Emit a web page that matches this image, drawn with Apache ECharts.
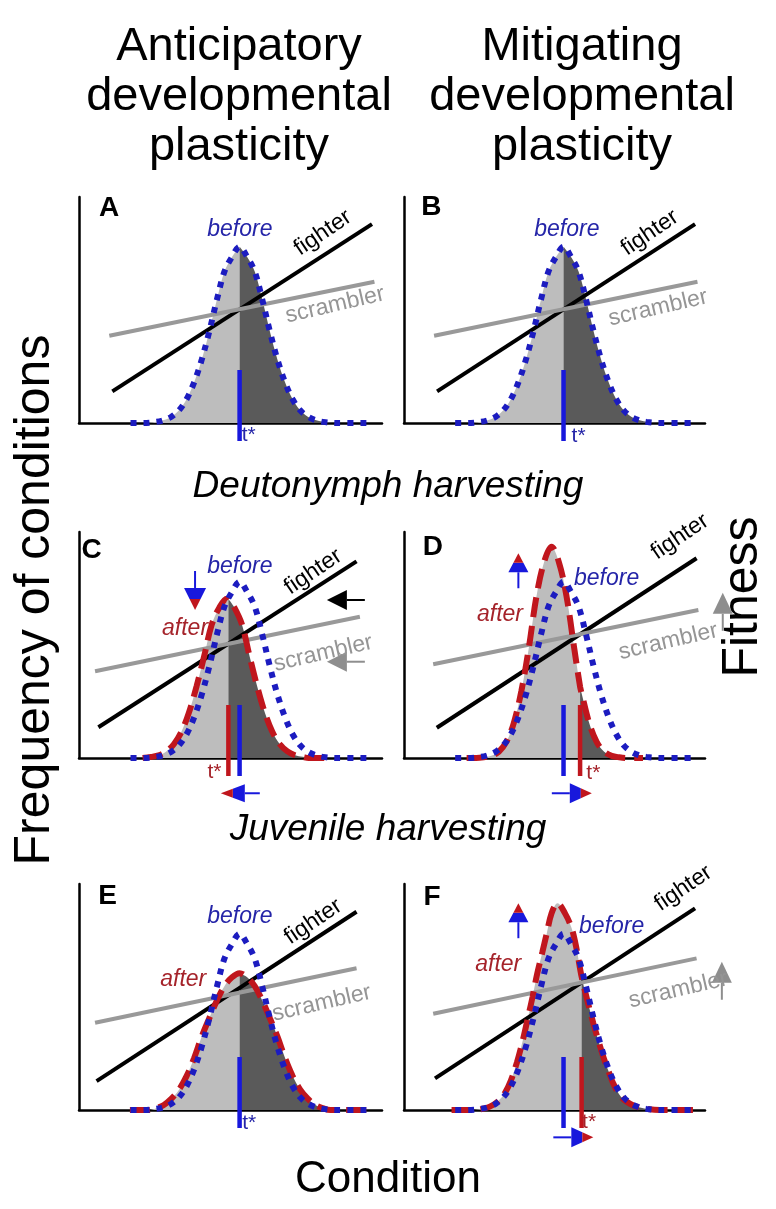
<!DOCTYPE html>
<html><head><meta charset="utf-8">
<script src="https://cdn.jsdelivr.net/npm/echarts@6/dist/echarts.min.js"></script>
<style>html,body{margin:0;padding:0;background:#fff}#c{width:776px;height:1209px}</style>
</head><body><div id="c"></div>
<script>
// ---------------- data (condition on x: 0-100, frequency/fitness on y: 0-100) ----------------
const beforeCurve = [[17,0],[21,0],[25.5,0.5],[28,1.3],[30.5,2.8],[33,5.6],[35.5,10.5],[38,18],[40.5,28],[43,40.5],[45.5,54.5],[48,67],[50.5,73.5],[53,78],[55.5,73.5],[58,67],[60.5,54.5],[63,40.5],[65.5,28],[68,18],[70.5,10.5],[73,5.6],[75.5,2.8],[78,1.3],[80.5,0.5],[85,0],[96,0]];
const afterC = [[21,0],[23.8,0.5],[26.3,1.2],[28.8,2.9],[31.3,6.1],[33.8,11.6],[36.3,20.2],[38.8,31.7],[41.3,45],[43.8,59],[46.3,66.5],[48.8,70.5],[49.3,70.3],[51.3,66.5],[53.8,59],[56.3,45],[58.8,31.7],[61.3,20.2],[63.8,11.6],[66.3,6.1],[68.8,2.9],[71.3,1.2],[73.8,0.5],[75.8,0],[82,0]];
const afterD = [[20.8,0],[24,0],[26.5,0.3],[29,0.95],[31.5,2.8],[34,7.1],[36.5,15.6],[39,29.7],[41.5,49],[44,71.5],[46.5,86.5],[49,93.5],[51.5,86.5],[54,71.5],[56.5,49],[58.5,31.5],[59,28.7],[61.5,15.6],[64,7.1],[66.5,2.8],[69,0.95],[71.5,0.3],[74,0],[79.4,0]];
const afterE = [[16.8,0],[23,0],[25.5,0.8],[28,2.2],[30.5,5],[33,9],[35.5,15],[38,23],[40.5,32.5],[43,40.6],[45.5,48.4],[48,54.8],[50.5,58.7],[53,60.5],[55.5,58.7],[58,54.8],[60.5,48.4],[63,40.6],[65.5,32.5],[68,23],[70.5,15],[73,9],[75.5,5],[78,2.2],[80.5,0.8],[83,0],[96,0]];
const afterF = [[15.8,0],[23.5,0],[26,0.5],[28.5,1.5],[31,3.6],[33.5,7.5],[35.5,13],[37.5,21],[39.5,31],[41.2,41],[42.7,50],[44.2,60],[46,70],[47.4,78],[49,87],[51,91.5],[53.5,87],[55.7,80.4],[57.4,70.8],[59,59],[61,48],[62.9,38.4],[64.5,31],[66.2,23.6],[68,17],[69.5,11.8],[72,6],[75,2.8],[78,1.2],[81,0.4],[85,0],[96,0]];

const fighterAB = [[11,14],[96.7,88]];
const scramblerAB = [[10,38.6],[97.5,62.5]];
const fighterC = [[6.4,13.6],[91.6,87]];
const scramblerC = [[5.3,38.4],[92.7,62.5]];
const fighterD = [[10.9,13.4],[97.2,88.4]];
const scramblerD = [[9.7,41.5],[97.8,65.5]];
const fighterE = [[5.8,12.8],[91.6,87.7]];
const scramblerE = [[5.3,38.6],[91.6,62.7]];
const fighterF = [[10.3,14],[96.7,89.2]];
const scramblerF = [[9.7,42.6],[97.2,67.1]];

const tStar = 53;       // threshold before harvesting
const tStarC = 49.3;    // thresholds after harvesting
const tStarD = 58.5;
const tStarF = 59;
const tLineSpan = [-8, 23.5];

// annotation texts: [text, x, y]
const labelsA = [['A',9.9,95.1],['before',53.1,85.4],['fighter',80.5,84.1],['scrambler',84.5,52.2],['t*',56,-5.5]];
const labelsB = [['B',9.1,95.6],['before',54.1,85.4],['fighter',81.7,84.1],['scrambler',84.4,50.9],['t*',58,-6]];
const labelsC = [['C',4.2,92],['before',53.1,84.6],['after',35,57.4],['fighter',77.3,82.4],['scrambler',80.6,46.3],['t*',44.7,-6.2]];
const labelsD = [['D',9.6,93.1],['before',67.3,79.5],['after',31.9,63.3],['fighter',91.7,97.9],['scrambler',87.8,51.5],['t*',62.9,-6.8]];
const labelsE = [['E',9.4,94.7],['before',53.1,85.5],['after',34.4,57.5],['fighter',77.3,83.3],['scrambler',80.1,47.2],['t*',56.2,-5.8]];
const labelsF = [['F',9.3,94.2],['before',69,81.1],['after',31.3,64.2],['fighter',92.8,98.1],['scrambler',91.1,53.1],['t*',61.5,-5.2]];

// arrows: [kind, tipX, tipY]
const arrowsC = [['splitDown',38.3,65.5],['leftBlack',81.8,69.9],['leftGray',81.8,42.6],['splitLeft',46.8,-15.6]];
const arrowsD = [['splitUp',38,90.6],['upGray',105.9,73.1],['splitRight',62.4,-15.6]];
const arrowsF = [['splitUp',38,91.5],['upGray',105.6,65.6],['splitRight',62.9,-12.1]];

// ---------------- styling / layout ----------------
const FONT = '"Liberation Sans", Arial, Helvetica, sans-serif';
const BLUE_DOT = '#1c1cc0';
const BLUE_LINE = '#1818dc';
const RED = '#c0161d';
const BLUE_TXT = '#2525a8';
const RED_TXT = '#a5232a';
const GRAY = '#999999';
const LIGHT = '#bdbdbd';
const DARK = '#5a5a5a';
const colLeft = [79, 404], colW = [303, 301];
const rowBottom = [423, 758, 1110], GH = 226;

const panels = [
  {col:0,row:0, fill:beforeCurve, split:tStar, after:null, fighter:fighterAB, scrambler:scramblerAB, tLines:[[tStar,BLUE_LINE]], tColor:BLUE_TXT, labels:labelsA, arrows:[]},
  {col:1,row:0, fill:beforeCurve, split:tStar, after:null, fighter:fighterAB, scrambler:scramblerAB, tLines:[[tStar,BLUE_LINE]], tColor:BLUE_TXT, labels:labelsB, arrows:[]},
  {col:0,row:1, fill:afterC, split:tStarC, after:afterC, fighter:fighterC, scrambler:scramblerC, tLines:[[tStarC,RED],[tStar,BLUE_LINE]], tColor:RED_TXT, labels:labelsC, arrows:arrowsC},
  {col:1,row:1, fill:afterD, split:tStarD, after:afterD, fighter:fighterD, scrambler:scramblerD, tLines:[[tStar,BLUE_LINE],[tStarD,RED]], tColor:RED_TXT, labels:labelsD, arrows:arrowsD},
  {col:0,row:2, fill:afterE, split:tStar, after:afterE, fighter:fighterE, scrambler:scramblerE, tLines:[[tStar,BLUE_LINE]], tColor:BLUE_TXT, labels:labelsE, arrows:[]},
  {col:1,row:2, fill:afterF, split:tStarF, after:afterF, fighter:fighterF, scrambler:scramblerF, tLines:[[tStar,BLUE_LINE],[tStarF,RED]], tColor:RED_TXT, labels:labelsF, arrows:arrowsF}
];

function labelStyle(t, p) {
  const base = {show:true, position:'inside', formatter:t, fontFamily:FONT, align:'center', verticalAlign:'middle',
    textBorderWidth:0, textBorderColor:'transparent', opacity:1};
  if (t.length === 1) return Object.assign(base, {fontSize:28, fontWeight:'bold', color:'#000'});
  if (t === 'before') return Object.assign(base, {fontSize:23, fontStyle:'italic', color:BLUE_TXT});
  if (t === 'after') return Object.assign(base, {fontSize:23, fontStyle:'italic', color:RED_TXT});
  if (t === 'fighter') return Object.assign(base, {fontSize:23, color:'#000', rotate:34});
  if (t === 'scrambler') return Object.assign(base, {fontSize:23, color:'#959595', rotate:13});
  return Object.assign(base, {fontSize:21, color:p.tColor});
}

function arrowRenderer(list) {
  return function (params, api) {
    const a = list[params.dataIndex];
    const pt = api.coord([a[1], a[2]]);
    const x = pt[0], y = pt[1], kind = a[0];
    const ch = [];
    const poly = (pts, fill) => ch.push({type:'polygon', shape:{points:pts}, style:{fill:fill}});
    const seg = (x1,y1,x2,y2,c) => ch.push({type:'line', shape:{x1:x1,y1:y1,x2:x2,y2:y2}, style:{stroke:c, lineWidth:2}});
    if (kind === 'splitDown') {
      const L=22, W=11, S=17;
      poly([[x-W,y-L],[x+W,y-L],[x+W/2,y-L/2],[x-W/2,y-L/2]], BLUE_LINE);
      poly([[x-W/2,y-L/2],[x+W/2,y-L/2],[x,y]], RED);
      seg(x,y-L,x,y-L-S,BLUE_LINE);
    } else if (kind === 'splitUp') {
      const L=19, W=10, S=16;
      poly([[x-W,y+L],[x+W,y+L],[x+W/2,y+L/2],[x-W/2,y+L/2]], BLUE_LINE);
      poly([[x-W/2,y+L/2],[x+W/2,y+L/2],[x,y]], RED);
      seg(x,y+L,x,y+L+S,BLUE_LINE);
    } else if (kind === 'splitLeft') {
      const L=24, W=9, S=15;
      poly([[x+L,y-W],[x+L,y+W],[x+L/2,y+W/2],[x+L/2,y-W/2]], BLUE_LINE);
      poly([[x+L/2,y-W/2],[x+L/2,y+W/2],[x,y]], RED);
      seg(x+L,y,x+L+S,y,BLUE_LINE);
    } else if (kind === 'splitRight') {
      const L=22, W=10, S=18;
      poly([[x-L,y-W],[x-L,y+W],[x-L/2,y+W/2],[x-L/2,y-W/2]], BLUE_LINE);
      poly([[x-L/2,y-W/2],[x-L/2,y+W/2],[x,y]], RED);
      seg(x-L,y,x-L-S,y,BLUE_LINE);
    } else if (kind === 'leftBlack' || kind === 'leftGray') {
      const c = kind === 'leftBlack' ? '#000' : '#8e8e8e';
      const L=20, W=10, S=18;
      poly([[x,y],[x+L,y-W],[x+L,y+W]], c);
      seg(x+L,y,x+L+S,y,c);
    } else if (kind === 'upGray') {
      const c = '#8e8e8e', L=21, W=10, S=17;
      poly([[x,y],[x-W,y+L],[x+W,y+L]], c);
      seg(x,y+L,x,y+L+S,c);
    }
    return {type:'group', children:ch};
  };
}

const grid = [], xAxis = [], yAxis = [], series = [];
panels.forEach((p, i) => {
  grid.push({left:colLeft[p.col], top:rowBottom[p.row]-GH, width:colW[p.col], height:GH, outerBoundsMode:'none'});
  const axisCommon = {gridIndex:i, type:'value', min:0, max:100,
    axisLine:{show:true, onZero:false, lineStyle:{color:'#000', width:2.5}},
    axisTick:{show:false}, axisLabel:{show:false}, splitLine:{show:false}};
  xAxis.push(Object.assign({}, axisCommon));
  yAxis.push(Object.assign({}, axisCommon));
  const ax = {xAxisIndex:i, yAxisIndex:i, silent:true};
  const left = p.fill.filter(d => d[0] <= p.split);
  const right = p.fill.filter(d => d[0] >= p.split);
  series.push(Object.assign({type:'line', data:left, smooth:0.35, symbol:'none', lineStyle:{width:0}, areaStyle:{color:LIGHT, opacity:1}, z:1}, ax));
  series.push(Object.assign({type:'line', data:right, smooth:0.35, symbol:'none', lineStyle:{width:0}, areaStyle:{color:DARK, opacity:1}, z:1}, ax));
  p.tLines.forEach(([tx, c]) => {
    series.push(Object.assign({type:'line', data:[[tx, tLineSpan[0]],[tx, tLineSpan[1]]], symbol:'none', clip:false, lineStyle:{color:c, width:4.5}, z:3}, ax));
  });
  series.push(Object.assign({type:'line', data:p.fighter, symbol:'none', lineStyle:{color:'#000', width:4}, z:4}, ax));
  series.push(Object.assign({type:'line', data:p.scrambler, symbol:'none', lineStyle:{color:GRAY, width:4}, z:4}, ax));
  if (p.after) {
    series.push(Object.assign({type:'line', data:p.after, smooth:0.35, symbol:'none', lineStyle:{color:RED, width:6, type:[20,9], cap:'butt'}, z:5}, ax));
  }
  series.push(Object.assign({type:'line', data:beforeCurve, smooth:0.35, symbol:'none', lineStyle:{color:BLUE_DOT, width:6, type:[6,7], cap:'butt'}, z:6}, ax));
  if (p.arrows.length) {
    series.push(Object.assign({type:'custom', clip:false, renderItem:arrowRenderer(p.arrows), data:p.arrows.map(a => [a[1], a[2]]), encode:{x:0, y:1}, z:8}, ax));
  }
  series.push(Object.assign({type:'scatter', clip:false, symbolSize:1, itemStyle:{color:'rgba(0,0,0,0)', opacity:1},
    data:p.labels.map(([t,x,y]) => ({value:[x,y], label:labelStyle(t,p)})), z:10}, ax));
});

const txt = (x, y, text, size, extra) => Object.assign({type:'text', x:x, y:y, silent:true,
  style:Object.assign({text:text, fontSize:size, fontFamily:FONT, fill:'#000', align:'center', verticalAlign:'middle', lineHeight:50}, (extra||{}).style||{})},
  extra && extra.rotation ? {rotation:extra.rotation} : {});

const chart = echarts.init(document.getElementById('c'), null, {renderer:'canvas'});
chart.setOption({
  animation:false,
  backgroundColor:'#fff',
  grid:grid, xAxis:xAxis, yAxis:yAxis, series:series,
  graphic:[
    txt(239, 97, 'Anticipatory\ndevelopmental\nplasticity', 47),
    txt(582, 97, 'Mitigating\ndevelopmental\nplasticity', 47),
    txt(388, 487, 'Deutonymph harvesting', 37, {style:{fontStyle:'italic'}}),
    txt(388, 830, 'Juvenile harvesting', 37, {style:{fontStyle:'italic'}}),
    txt(388, 1180, 'Condition', 44),
    txt(35, 600, 'Frequency of conditions', 50, {rotation:Math.PI/2}),
    txt(743, 597, 'Fitness', 50, {rotation:Math.PI/2})
  ]
});
</script></body></html>
